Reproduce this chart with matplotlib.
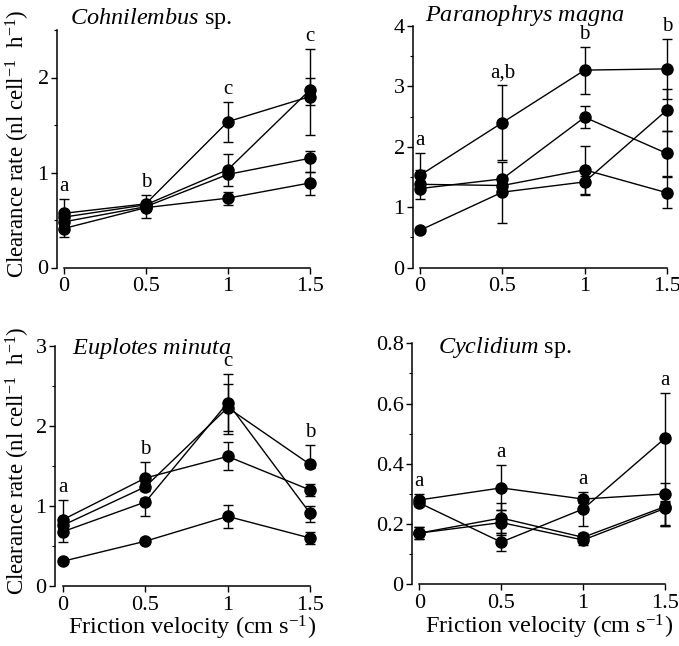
import matplotlib
matplotlib.use("Agg")
import matplotlib.pyplot as plt
from matplotlib.ticker import MultipleLocator, FuncFormatter

plt.rcParams['font.family'] = ['Liberation Serif', 'DejaVu Serif']
plt.rcParams['mathtext.fontset'] = 'custom'
plt.rcParams['mathtext.rm'] = 'Liberation Serif'
plt.rcParams['mathtext.it'] = 'Liberation Serif:italic'

# ---------------- data ----------------
velocity = [0, 0.5, 1, 1.5]
velocity_labels = ["0", "0.5", "1", "1.5"]

# Cohnilembus sp.
cohn_rates = [[0.57, 0.67, 1.535, 1.80],
              [0.53, 0.66, 1.03, 1.87],
              [0.48, 0.64, 0.98, 1.15],
              [0.41, 0.63, 0.73, 0.89]]
cohn_err_lo = [[0.03, 0.03, 0.21, 0.41],
               [0.03, 0.03, 0.05, 0.16],
               [0.03, 0.03, 0.12, 0.14],
               [0.09, 0.11, 0.07, 0.13]]
cohn_err_hi = [[0.15, 0.09, 0.21, 0.20],
               [0.03, 0.03, 0.17, 0.43],
               [0.03, 0.03, 0.05, 0.08],
               [0.03, 0.03, 0.07, 0.12]]
cohn_letters = ["a", "b", "c", "c"]

# Paranophrys magna
para_rates = [[1.53, 2.40, 3.27, 3.29],
              [1.31, 1.47, 2.49, 1.89],
              [1.38, 1.36, 1.62, 1.24],
              [0.62, 1.25, 1.42, 2.61]]
para_err_lo = [[0.10, 0.62, 0.39, 0.49],
               [0.17, 0.05, 0.18, 0.38],
               [0.05, 0.05, 0.40, 0.26],
               [0.05, 0.51, 0.22, 0.34]]
para_err_hi = [[0.36, 0.62, 0.39, 0.49],
               [0.05, 0.05, 0.19, 0.38],
               [0.24, 0.05, 0.40, 0.26],
               [0.05, 0.50, 0.10, 0.34]]
para_letters = ["a", "a,b", "b", "b"]

# Euplotes minuta
eupl_rates = [[0.83, 1.35, 1.62, 1.20],
              [0.76, 1.24, 2.23, 1.52],
              [0.68, 1.05, 2.29, 0.91],
              [0.31, 0.56, 0.87, 0.60]]
eupl_err_lo = [[0.05, 0.05, 0.17, 0.08],
               [0.05, 0.05, 0.33, 0.05],
               [0.13, 0.17, 0.35, 0.11],
               [0.03, 0.04, 0.14, 0.07]]
eupl_err_hi = [[0.24, 0.20, 0.18, 0.07],
               [0.05, 0.05, 0.30, 0.24],
               [0.05, 0.05, 0.36, 0.09],
               [0.03, 0.04, 0.14, 0.07]]
eupl_letters = ["a", "b", "c", "b"]

# Cyclidium sp.
cycl_rates = [[0.280, 0.320, 0.283, 0.300],
              [0.270, 0.140, 0.250, 0.485],
              [0.170, 0.220, 0.156, 0.258],
              [0.170, 0.205, 0.147, 0.252]]
cycl_err_lo = [[0.020, 0.075, 0.010, 0.030],
               [0.010, 0.030, 0.055, 0.290],
               [0.020, 0.050, 0.015, 0.060],
               [0.020, 0.040, 0.015, 0.060]]
cycl_err_hi = [[0.020, 0.075, 0.025, 0.035],
               [0.010, 0.030, 0.020, 0.150],
               [0.020, 0.050, 0.015, 0.020],
               [0.020, 0.040, 0.015, 0.020]]
cycl_letters = ["a", "a", "a", "a"]

ylabel_text = r"Clearance rate (nl cell$^{-1}$  h$^{-1}$)"
xlabel_text = r"Friction velocity (cm s$^{-1}$)"

W, H = 679, 646
fig = plt.figure(figsize=(W / 100, H / 100), dpi=100)


def px_axes(left, right, top, bottom):
    return fig.add_axes([left / W, 1 - bottom / H, (right - left) / W, (bottom - top) / H])


def draw(ax, rates, lo, hi, letters, ymax, major, minor, fmt, xleft):
    for r, l, h in zip(rates, lo, hi):
        ax.errorbar(velocity, r, yerr=[l, h], fmt='-o', color='black',
                    ms=8, lw=1.0, elinewidth=1.0, capsize=3.8, capthick=1.0,
                    clip_on=False, zorder=3)
    for i, letter in enumerate(letters):
        top = max(r[i] + h[i] for r, h in zip(rates, hi))
        ax.annotate(letter, (velocity[i], top), xytext=(0, 9),
                    textcoords='offset points', ha='center', va='center',
                    fontsize=15)
    ax.set_xlim(xleft, 1.5)
    ax.set_ylim(0, ymax)
    for s in ['top', 'right']:
        ax.spines[s].set_visible(False)
    ax.spines['bottom'].set_bounds(0, 1.5)
    ax.spines['left'].set_bounds(0, ymax)
    for s in ['left', 'bottom']:
        ax.spines[s].set_linewidth(1.1)
    ax.set_xticks(velocity)
    ax.set_xticklabels(velocity_labels)
    ax.yaxis.set_major_locator(MultipleLocator(major))
    ax.yaxis.set_minor_locator(MultipleLocator(minor))
    ax.yaxis.set_major_formatter(FuncFormatter(fmt))
    ax.tick_params(axis='both', which='major', direction='out', length=4,
                   width=1.0, labelsize=16, pad=2)
    ax.tick_params(axis='y', which='minor', direction='out', length=2.5, width=0.8)
    ax.tick_params(axis='x', which='major', pad=3)


def fmt_int(v, pos):
    return "%d" % round(v)


def fmt_1(v, pos):
    return "0" if abs(v) < 1e-9 else "%.1f" % v


ax1 = px_axes(57, 310, 30, 267.5)
draw(ax1, cohn_rates, cohn_err_lo, cohn_err_hi, cohn_letters, 2.5, 1, 0.5, fmt_int, -0.04)
ax1.set_ylabel(ylabel_text, fontsize=16.5)
ax1.yaxis.set_label_coords(-0.10, 0.52)

ax2 = px_axes(413, 667, 26, 267.7)
draw(ax2, para_rates, para_err_lo, para_err_hi, para_letters, 4, 1, 0.5, fmt_int, -0.0425)

ax3 = px_axes(55, 310, 346, 586)
draw(ax3, eupl_rates, eupl_err_lo, eupl_err_hi, eupl_letters, 3, 1, 0.5, fmt_int, -0.049)
ax3.set_ylabel(ylabel_text, fontsize=16.5)
ax3.yaxis.set_label_coords(-0.092, 0.52)
ax3.set_xlabel(xlabel_text, fontsize=17.5)
ax3.xaxis.set_label_coords(0.537, -0.115)

ax4 = px_axes(412, 665, 343.3, 584.3)
draw(ax4, cycl_rates, cycl_err_lo, cycl_err_hi, cycl_letters, 0.8, 0.2, 0.1, fmt_1, -0.045)
ax4.set_xlabel(xlabel_text, fontsize=17.5)
ax4.xaxis.set_label_coords(0.54, -0.12)

# panel titles
fig.text(70 / W, 1 - 24 / H, r"$\mathit{Cohnilembus}$ sp.", fontsize=17.5, va='baseline')
fig.text(425 / W, 1 - 20.7 / H, r"$\mathit{Paranophrys\ magna}$", fontsize=17.5, va='baseline')
fig.text(72 / W, 1 - 354 / H, r"$\mathit{Euplotes\ minuta}$", fontsize=17.5, va='baseline')
fig.text(438 / W, 1 - 353 / H, r"$\mathit{Cyclidium}$ sp.", fontsize=17.5, va='baseline')

fig.savefig("out.png", dpi=100)
